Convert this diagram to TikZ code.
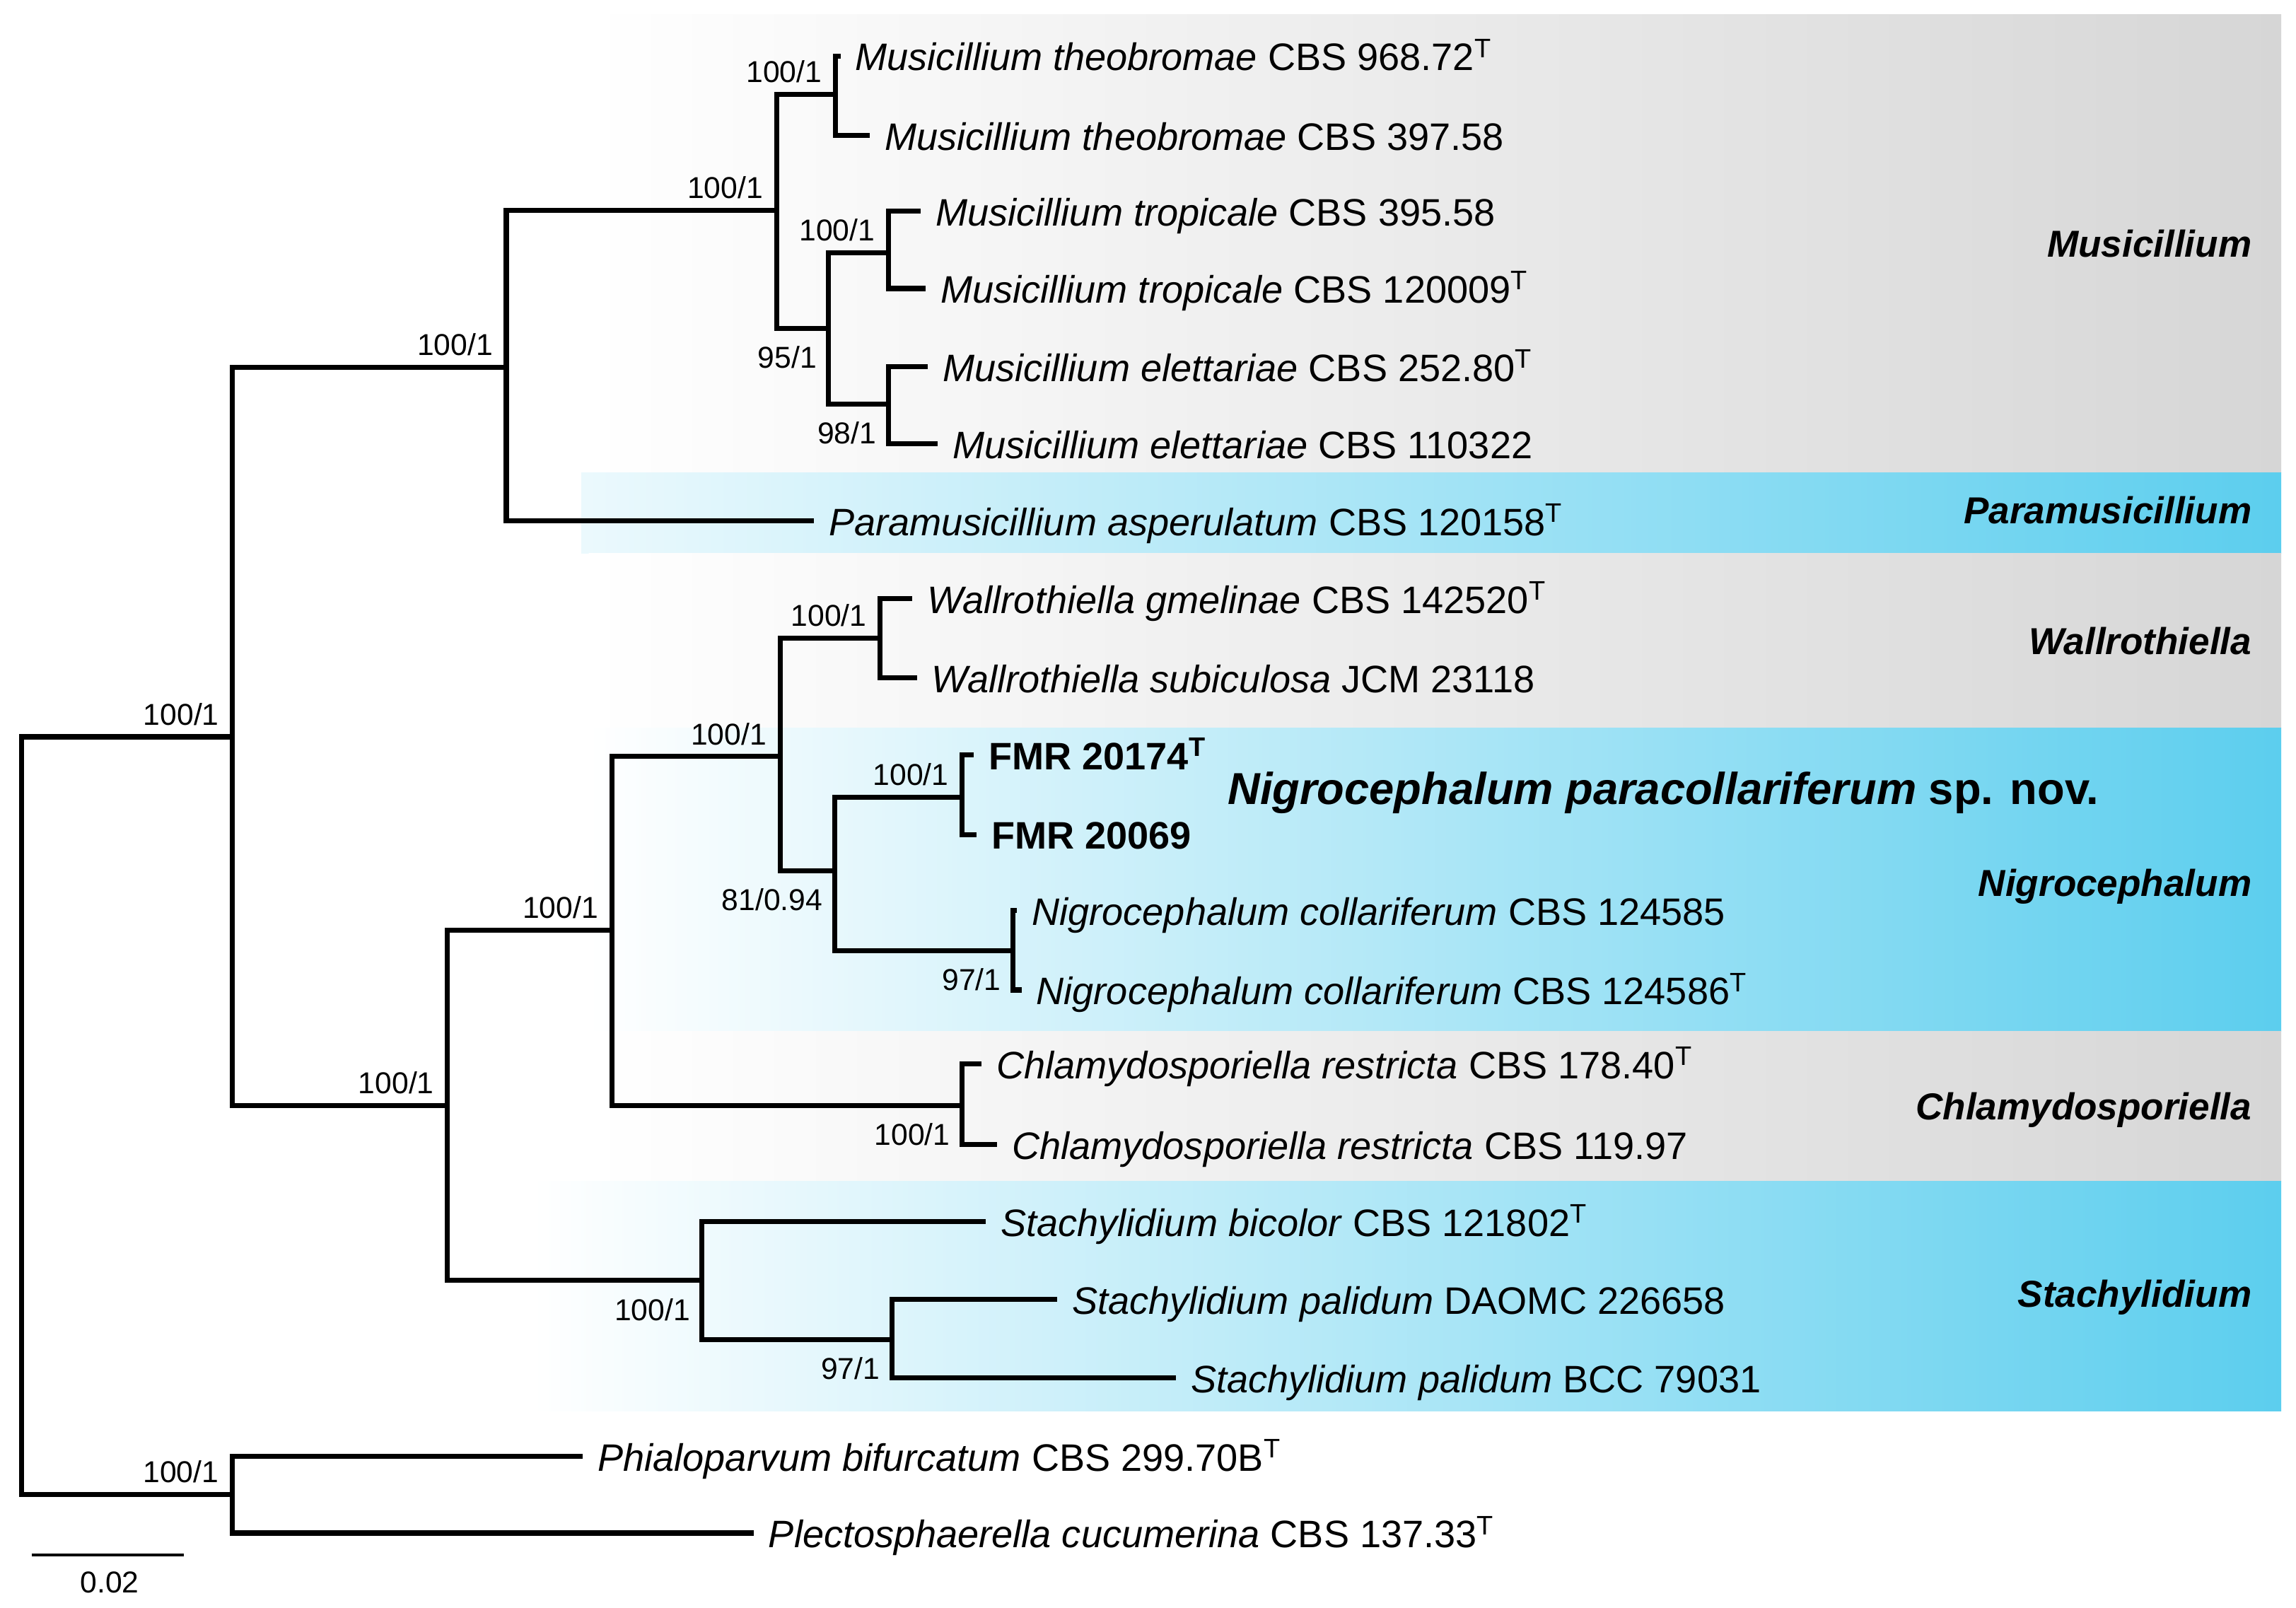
\documentclass[tikz,border=0pt]{standalone}
\usepackage{fontspec}
\setmainfont{Liberation Sans}
\definecolor{cladegray}{RGB}{214,214,214}
\definecolor{cladecyan}{RGB}{92,206,238}
\tikzset{
  branch/.style={line width=3.4pt},
  leaf/.style={anchor=west,inner xsep=10pt,inner ysep=0pt,text height=20pt,text depth=0pt,font=\fontsize{26}{30}\selectfont},
  supa/.style={anchor=base east,inner sep=0pt,xshift=-9pt,yshift=8pt,font=\fontsize{20.5}{24}\selectfont},
  supb/.style={anchor=base east,inner sep=0pt,xshift=-8pt,yshift=-27pt,font=\fontsize{20.5}{24}\selectfont},
  clade/.style={anchor=base east,inner sep=0pt,font=\fontsize{25.5}{30}\selectfont\bfseries\itshape},
}

\begin{document}
\begin{tikzpicture}[x=1pt,y=-1pt]
\useasboundingbox (0,0) rectangle (1560,1092.5);

%BACKGROUND
\shade[left color=white,right color=cladegray] (400,9.8) rectangle (1550,321);
\shade[left color=cladecyan!12,right color=cladecyan] (395,321) rectangle (1550,376);
\shade[left color=white,right color=cladegray] (400,376) rectangle (1550,494.5);
\shade[left color=white,right color=cladecyan] (400,494.5) rectangle (1550,700.8);
\shade[left color=white,right color=cladegray] (400,700.8) rectangle (1550,802.7);
\shade[left color=white,right color=cladecyan] (362,802.7) rectangle (1550,958.5);
%BACKGROUND

\coordinate(v0) at (14.7,758);
\coordinate(v1) at (158,500.6);
\coordinate(v2) at (344,249.5);
\coordinate(v3) at (527.6,143);
\coordinate(v4) at (567.5,64);
\coordinate(v5) at (563,223);
\coordinate(v6) at (603.6,171.6);
\coordinate(v7) at (603.6,274.5);
\coordinate(v8) at (304,751);
\coordinate(v9) at (415.6,632);
\coordinate(v10) at (530,514);
\coordinate(v11) at (598,433.5);
\coordinate(v12) at (567,591.7);
\coordinate(v13) at (653.7,541.5);
\coordinate(v14) at (688.3,645.8);
\coordinate(v15) at (653.7,751);
\coordinate(v16) at (477,870);
\coordinate(v17) at (606,910.3);
\coordinate(v18) at (157.7,1015.3);

\node[leaf](t1) at (571,38) {\textit{Musicillium theobromae} CBS 968.72\textsuperscript{T}};
\node[leaf](t2) at (591,92) {\textit{Musicillium theobromae} CBS 397.58};
\node[leaf](t3) at (625.7,143.4) {\textit{Musicillium tropicale} CBS 395.58};
\node[leaf](t4) at (629,196) {\textit{Musicillium tropicale} CBS 120009\textsuperscript{T}};
\node[leaf](t5) at (630.5,249) {\textit{Musicillium elettariae} CBS 252.80\textsuperscript{T}};
\node[leaf](t6) at (637,301.5) {\textit{Musicillium elettariae} CBS 110322};
\node[leaf](t7) at (553,354) {\textit{Paramusicillium asperulatum} CBS 120158\textsuperscript{T}};
\node[leaf](t8) at (620,406.6) {\textit{Wallrothiella gmelinae} CBS 142520\textsuperscript{T}};
\node[leaf](t9) at (623,460.6) {\textit{Wallrothiella subiculosa} JCM 23118};
\node[leaf](t10) at (661.6,513) {\textbf{FMR 20174\textsuperscript{T}}};
\node[leaf](t11) at (663.5,567) {\textbf{FMR 20069}};
\node[leaf](t12) at (691,618.6) {\textit{Nigrocephalum collariferum} CBS 124585};
\node[leaf](t13) at (694,672.6) {\textit{Nigrocephalum collariferum} CBS 124586\textsuperscript{T}};
\node[leaf](t14) at (667,722.8) {\textit{Chlamydosporiella restricta} CBS 178.40\textsuperscript{T}};
\node[leaf](t15) at (677.5,777.8) {\textit{Chlamydosporiella restricta} CBS 119.97};
\node[leaf](t16) at (669.8,830) {\textit{Stachylidium bicolor} CBS 121802\textsuperscript{T}};
\node[leaf](t17) at (718.3,883) {\textit{Stachylidium palidum} DAOMC 226658};
\node[leaf](t18) at (799,936) {\textit{Stachylidium palidum} BCC 79031};
\node[leaf](t19) at (396,989.5) {\textit{Phialoparvum bifurcatum} CBS 299.70B\textsuperscript{T}};
\node[leaf](t20) at (512,1041.6) {\textit{Plectosphaerella cucumerina} CBS 137.33\textsuperscript{T}};

\draw[branch] (v0) |- (v1);
\draw[branch] (v0) |- (v18);
\draw[branch] (v1) |- (v2);
\draw[branch] (v1) |- (v8);
\draw[branch] (v2) |- (v3);
\draw[branch] (v2) |- (t7);
\draw[branch] (v3) |- (v4);
\draw[branch] (v3) |- (v5);
\draw[branch] (v4) |- (t1);
\draw[branch] (v4) |- (t2);
\draw[branch] (v5) |- (v6);
\draw[branch] (v5) |- (v7);
\draw[branch] (v6) |- (t3);
\draw[branch] (v6) |- (t4);
\draw[branch] (v7) |- (t5);
\draw[branch] (v7) |- (t6);

\draw[branch] (v8) |- (v9);
\draw[branch] (v8) |- (v16);
\draw[branch] (v9) |- (v10);
\draw[branch] (v9) |- (v15);
\draw[branch] (v10) |- (v11);
\draw[branch] (v10) |- (v12);
\draw[branch] (v11) |- (t8);
\draw[branch] (v11) |- (t9);
\draw[branch] (v12) |- (v13);
\draw[branch] (v12) |- (v14);
\draw[branch] (v13) |- (t10);
\draw[branch] (v13) |- (t11);
\draw[branch] (v14) |- (t12);
\draw[branch] (v14) |- (t13);
\draw[branch] (v15) |- (t14);
\draw[branch] (v15) |- (t15);
\draw[branch] (v16) |- (t16);
\draw[branch] (v16) |- (v17);
\draw[branch] (v17) |- (t17);
\draw[branch] (v17) |- (t18);
\draw[branch] (v18) |- (t19);
\draw[branch] (v18) |- (t20);

\node[supa](s1) at (v4) {100/1};
\node[supa](s2) at (v3) {100/1};
\node[supa](s3) at (v6) {100/1};
\node[supb](s4) at (v5) {95/1};
\node[supb](s5) at (v7) {98/1};
\node[supa](s6) at (v2) {100/1};
\node[supa](s7) at (v1) {100/1};
\node[supa](s8) at (v11) {100/1};
\node[supa](s9) at (v10) {100/1};
\node[supa](s10) at (v13) {100/1};
\node[supb](s11) at (v12) {81/0.94};
\node[supb](s12) at (v14) {97/1};
\node[supa](s13) at (v9) {100/1};
\node[supa](s14) at (v8) {100/1};
\node[supb](s15) at (v15) {100/1};
\node[supb](s16) at (v16) {100/1};
\node[supb](s17) at (v17) {97/1};
\node[supa](s18) at (v18) {100/1};

\node[clade](c1) at (1530,174.6) {Musicillium};
\node[clade](c2) at (1530,356) {Paramusicillium};
\node[clade](c3) at (1530,444.5) {Wallrothiella};
\node[clade](c4) at (1530,608.8) {Nigrocephalum};
\node[clade](c5) at (1530,761) {Chlamydosporiella};
\node[clade](c6) at (1530,888) {Stachylidium};
\node[anchor=base west,inner sep=0pt,font=\fontsize{30.4}{34}\selectfont\bfseries](n1) at (834,546.6) {\textit{Nigrocephalum paracollariferum} sp. nov.};

%SCALE
\coordinate(b1) at (21.6,1056.5);
\coordinate(b2) at (125,1056.5);
\draw[line width=2pt] (b1) -- (b2);
\node[anchor=base,inner sep=0pt,font=\fontsize{20.5}{24}\selectfont](b3) at (74.5,1082) {0.02};

\end{tikzpicture}
\end{document}
